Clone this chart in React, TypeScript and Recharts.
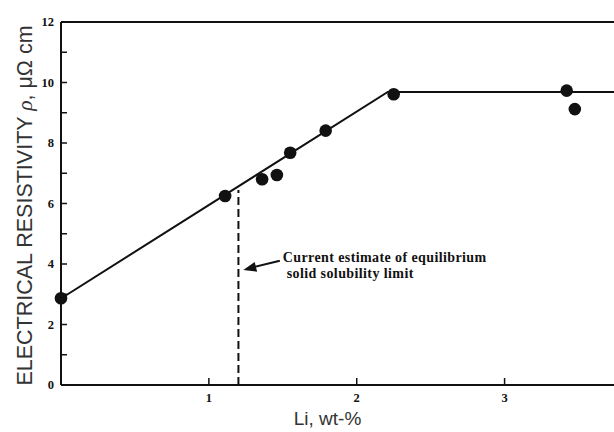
import {
  ComposedChart,
  Line,
  Scatter,
  XAxis,
  YAxis,
  ReferenceLine,
  ReferenceDot,
  Label,
} from "recharts";

// measured points: Li content (wt-%) vs resistivity (µΩ cm)
const liContent = [0.0, 1.11, 1.36, 1.46, 1.55, 1.79, 2.25, 3.42, 3.475];
const resistivity = [2.87, 6.25, 6.8, 6.94, 7.68, 8.41, 9.61, 9.73, 9.12];

// fitted two-segment line
const fitLi = [0, 2.21, 3.74];
const fitRho = [2.86, 9.69, 9.69];

// dashed solubility-limit marker
const limitLi = [1.2, 1.2];
const limitRho = [0, 6.45];

const xTicks = [1, 2, 3];
const yTicks = [0, 1, 2, 3, 4, 5, 6, 7, 8, 9, 10, 11, 12];

const noteLines = ["Current estimate of equilibrium", " solid solubility limit"];

const points = liContent.map((li, i) => ({ li, rho: resistivity[i] }));
const fitData = fitLi.map((li, i) => ({ li, rho: fitRho[i] }));
const limitData = limitLi.map((li, i) => ({ li, rho: limitRho[i] }));

const INK = "#111";
const SERIF = "'Liberation Serif', 'Times New Roman', serif";
const SANS = "'Liberation Sans', Arial, sans-serif";

function renderYTick(props: any) {
  const { x, y, payload } = props;
  const even = payload.value % 2 === 0;
  return (
    <g key={`yt-${payload.value}`}>
      <line x1={x} x2={x + 6} y1={y} y2={y} stroke={INK} strokeWidth={1.5} />
      {even && (
        <text x={x - 7} y={y + 4} textAnchor="end" fontFamily={SERIF} fontWeight="bold" fontSize={12.5} fill={INK}>
          {payload.value}
        </text>
      )}
    </g>
  );
}

function renderXTick(props: any) {
  const { x, y, payload } = props;
  return (
    <g key={`xt-${payload.value}`}>
      <line x1={x} x2={x} y1={y} y2={y - 7} stroke={INK} strokeWidth={1.5} />
      <text x={x} y={y + 17} textAnchor="middle" fontFamily={SERIF} fontWeight="bold" fontSize={12.5} fill={INK}>
        {payload.value}
      </text>
    </g>
  );
}

export default function App() {
  return (
    <div style={{ position: "absolute", left: 0, top: 0, background: "#fff" }}>
      <ComposedChart width={614} height={432} margin={{ top: 22, right: 0, bottom: 0, left: 0 }}>
        <XAxis
          dataKey="li"
          type="number"
          domain={[0, 3.74]}
          ticks={xTicks}
          interval={0}
          minTickGap={0}
          height={47}
          tickSize={0}
          tickMargin={0}
          tick={renderXTick}
          axisLine={{ stroke: INK, strokeWidth: 2 }}
        >
          <Label
            content={(p: any) => {
              const vb = p.viewBox;
              return (
                <text x={vb.x + vb.width / 2 - 10} y={vb.y + 40} textAnchor="middle" fontFamily={SANS} fontSize={19} fill="#333">
                  Li, wt-%
                </text>
              );
            }}
          />
        </XAxis>
        <YAxis
          type="number"
          domain={[0, 12]}
          ticks={yTicks}
          width={61}
          tickSize={0}
          tickMargin={0}
          tick={renderYTick}
          interval={0}
          minTickGap={0}
          axisLine={{ stroke: INK, strokeWidth: 2 }}
        >
          <Label
            content={(p: any) => {
              const vb = p.viewBox;
              const cx = 25;
              const cy = vb.y + vb.height / 2 + 2;
              return (
                <text
                  x={cx}
                  y={cy}
                  transform={`rotate(-90 ${cx} ${cy})`}
                  textAnchor="middle"
                  dominantBaseline="central"
                  fontFamily={SANS}
                  fontSize={21.5}
                  fill="#333"
                >
                  ELECTRICAL RESISTIVITY <tspan fontStyle="italic" fontFamily={SERIF}>ρ</tspan>, μΩ cm
                </text>
              );
            }}
          />
        </YAxis>
        <ReferenceLine y={12} stroke={INK} strokeWidth={2} />
        <Line
          data={limitData}
          dataKey="rho"
          type="linear"
          stroke={INK}
          strokeWidth={2}
          strokeDasharray="8 4"
          dot={false}
          activeDot={false}
          isAnimationActive={false}
        />
        <Line
          data={fitData}
          dataKey="rho"
          type="linear"
          stroke={INK}
          strokeWidth={2}
          dot={false}
          activeDot={false}
          isAnimationActive={false}
        />
        <Scatter
          data={points}
          dataKey="rho"
          fill={INK}
          isAnimationActive={false}
          shape={(p: any) => <circle cx={p.cx} cy={p.cy} r={6.3} fill={INK} />}
        />
        <ReferenceLine
          segment={[
            { x: 1.48, y: 4.11 },
            { x: 1.27, y: 3.86 },
          ]}
          stroke={INK}
          strokeWidth={2}
        />
        <ReferenceDot
          x={1.233}
          y={3.8}
          shape={(p: any) => {
            const a = Math.atan2(-9.3, 36.7);
            const len = 13;
            const w = 5;
            const bx = p.cx + Math.cos(a) * len;
            const by = p.cy + Math.sin(a) * len;
            const nx = -Math.sin(a) * w;
            const ny = Math.cos(a) * w;
            return <polygon points={`${p.cx},${p.cy} ${bx + nx},${by + ny} ${bx - nx},${by - ny}`} fill={INK} />;
          }}
        />
        <ReferenceDot
          x={1.5}
          y={4.2}
          shape={(p: any) => (
            <text x={p.cx} y={p.cy + 4} fontFamily={SERIF} fontWeight="bold" fontSize={14} letterSpacing={0.4} fill={INK}>
              {noteLines.map((t, i) => (
                <tspan key={i} x={p.cx} dy={i === 0 ? 0 : 16} style={{ whiteSpace: "pre" }}>
                  {t}
                </tspan>
              ))}
            </text>
          )}
        />
      </ComposedChart>
    </div>
  );
}
